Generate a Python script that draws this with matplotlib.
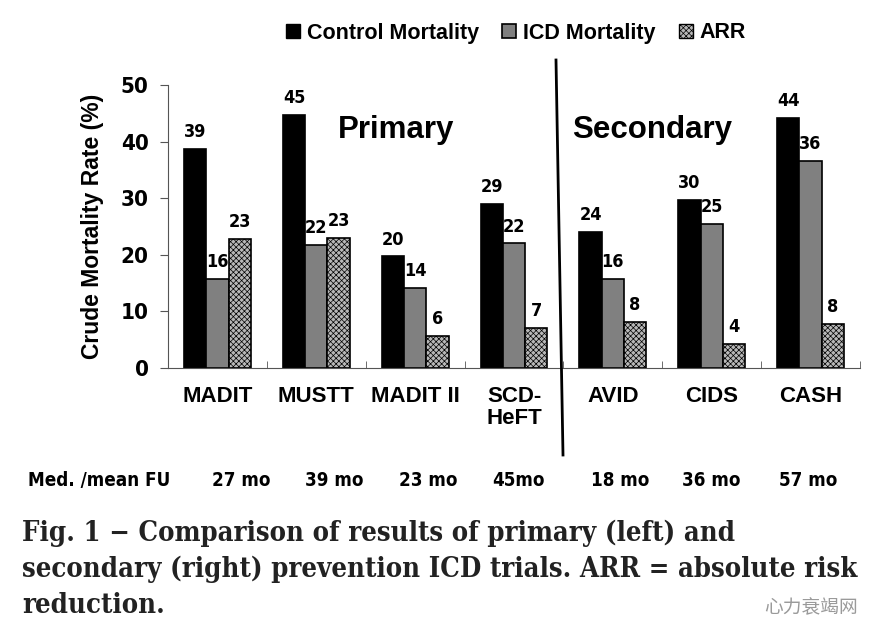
import matplotlib.pyplot as plt
import numpy as np
from matplotlib.lines import Line2D
from matplotlib.patches import Patch

trials = ["MADIT", "MUSTT", "MADIT II", "SCD-\nHeFT", "AVID", "CIDS", "CASH"]
control = [38.7, 44.7, 19.7, 29.0, 24.1, 29.7, 44.1]
icd = [15.8, 21.7, 14.2, 22.0, 15.8, 25.4, 36.6]
arr = [22.8, 23.0, 5.6, 7.0, 8.2, 4.2, 7.7]
control_lbl = ["39", "45", "20", "29", "24", "30", "44"]
icd_lbl = ["16", "22", "14", "22", "16", "25", "36"]
arr_lbl = ["23", "23", "6", "7", "8", "4", "8"]
follow_up = ["27 mo", "39 mo", "23 mo", "45mo", "18 mo", "36 mo", "57 mo"]

W, H = 889, 637
fig = plt.figure(figsize=(W / 100, H / 100), dpi=100)
ax = fig.add_axes([168 / W, 1 - 368 / H, (860 - 168) / W, (368 - 85) / H])

x = np.arange(len(trials))
bw = 0.225
edge = dict(edgecolor="black", linewidth=1.2)
b1 = ax.bar(x - bw, control, bw, color="black", **edge)
b2 = ax.bar(x, icd, bw, color="#808080", **edge)
plt.rcParams["hatch.color"] = "#666666"
plt.rcParams["hatch.linewidth"] = 0.5
b3 = ax.bar(x + bw, arr, bw, color="#b8b8b8", hatch="xxxxxx", **edge)

narrow = dict(fontweight="bold", family="DejaVu Sans", fontstretch="condensed")
for bars, labels in ((b1, control_lbl), (b2, icd_lbl), (b3, arr_lbl)):
    for rect, lab in zip(bars, labels):
        ax.text(rect.get_x() + rect.get_width() / 2, rect.get_height() + 1.4, lab,
                ha="center", va="bottom", fontsize=13, **narrow)

ax.set_xlim(-0.5, len(trials) - 0.5)
ax.set_ylim(0, 50)
ax.set_yticks(range(0, 51, 10))
ax.set_xticks(np.arange(len(trials) + 1) - 0.5, minor=True)
ax.set_xticks(x)
ax.set_xticklabels(trials, fontsize=16, fontweight="bold", family="Liberation Sans",
                   linespacing=1.05)
ax.tick_params(axis="x", which="major", length=0, pad=13)
ax.tick_params(axis="x", which="minor", length=5, direction="in", color="#555555")
ax.tick_params(axis="y", length=6, direction="out", color="#555555", pad=8)
for t in ax.get_yticklabels():
    t.set_fontsize(16)
    t.set_fontweight("bold")
    t.set_family("DejaVu Sans")
    t.set_fontstretch("condensed")
for s in ("top", "right"):
    ax.spines[s].set_visible(False)
for s in ("left", "bottom"):
    ax.spines[s].set_color("#555555")
ax.set_ylabel("Crude Mortality Rate (%)", fontsize=16.5, fontweight="bold",
              family="Liberation Sans", labelpad=12)

ax.text(1.81, 42, "Primary", fontsize=22.5, fontweight="bold", ha="center", va="center",
        family="Liberation Sans")
ax.text(4.40, 42, "Secondary", fontsize=22.5, fontweight="bold", ha="center", va="center",
        family="Liberation Sans")

# divider between primary and secondary trials
fig.add_artist(Line2D([556 / W, 563 / W], [1 - 60 / H, 1 - 455 / H], color="black", lw=2))

handles = [Patch(facecolor="black", edgecolor="black"),
           Patch(facecolor="#808080", edgecolor="black", lw=1.2),
           Patch(facecolor="#b8b8b8", edgecolor="black", hatch="xxxxxx")]
fig.legend(handles, ["Control Mortality", "ICD Mortality", "ARR"], loc="center",
           bbox_to_anchor=(516 / W, 1 - 33 / H), ncol=3, frameon=False,
           prop=dict(weight="bold", size=15.5, family="Liberation Sans"),
           handlelength=0.65, handleheight=0.65, handletextpad=0.3, columnspacing=1.1)

fu_font = dict(fontsize=13.5, fontweight="bold", family="DejaVu Sans",
               fontstretch="condensed", va="center")
fig.text(28 / W, 1 - 480 / H, "Med. /mean FU", ha="left", **fu_font)
fu_x = [241, 334, 428, 518, 620, 711, 808]
for px, lab in zip(fu_x, follow_up):
    fig.text(px / W, 1 - 480 / H, lab, ha="center", **fu_font)

caption = ("Fig. 1 \u2212 Comparison of results of primary (left) and\n"
           "secondary (right) prevention ICD trials. ARR = absolute risk\n"
           "reduction.")
fig.text(22 / W, 1 - 520 / H, caption, ha="left", va="top", fontsize=19.7,
         fontweight="bold", family="DejaVu Serif", fontstretch="condensed",
         color="#222222", linespacing=1.4)

fig.text(858 / W, 1 - 608 / H, "\u5fc3\u529b\u8870\u7aed\u7f51", ha="right", va="center",
         fontsize=13.5, color="#9a9a9a", family=["Noto Sans CJK SC", "DejaVu Sans"])

fig.savefig("out.png", dpi=100)
